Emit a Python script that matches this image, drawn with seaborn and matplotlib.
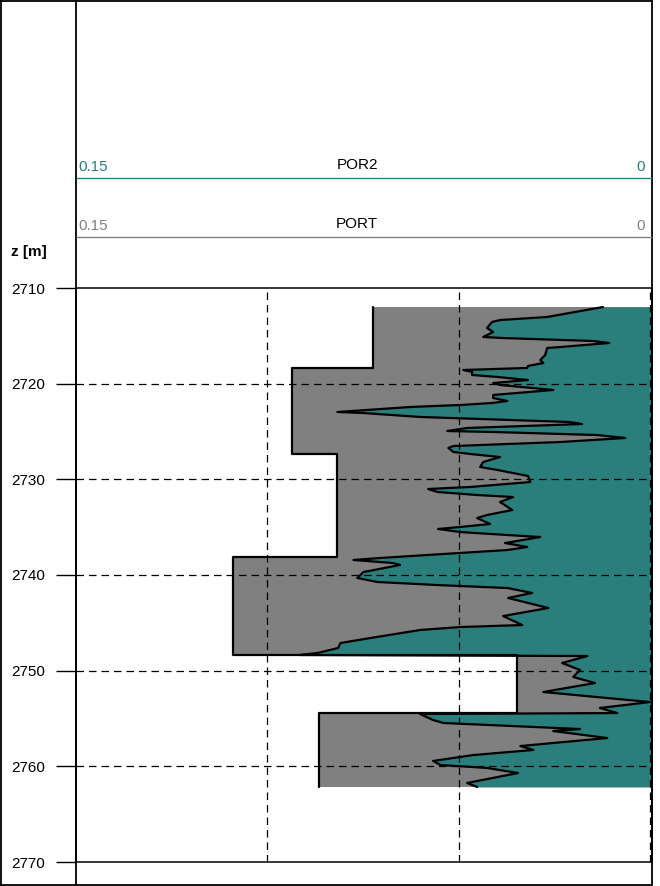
import numpy as np
import pandas as pd
import matplotlib
matplotlib.use("Agg")
import matplotlib.pyplot as plt
import seaborn as sns
from matplotlib.lines import Line2D

# ---------------- data ----------------
# PORT: blocky log, interval tops/bottoms (m) and values (v/v)
port_edges = [2712.0, 2718.4, 2727.35, 2738.1, 2748.35, 2754.4, 2762.15]
port_values = [0.0723, 0.0935, 0.0817, 0.1091, 0.0347, 0.0864]

# POR2: continuous log
por2_depth = [2711.99, 2713.03, 2713.35, 2713.55, 2714.18, 2714.60, 2715.12, 2715.23, 2715.54, 2715.75,
              2716.17, 2716.27, 2717.00, 2717.53, 2717.84, 2718.15, 2718.36, 2718.57, 2718.78, 2719.09,
              2719.30, 2719.62, 2719.93, 2720.14, 2720.66, 2721.18, 2721.50, 2721.81, 2722.02, 2722.23,
              2722.44, 2722.96, 2723.07, 2723.48, 2724.01, 2724.22, 2724.63, 2724.95, 2725.05, 2725.37,
              2725.68, 2726.10, 2726.52, 2726.72, 2727.14, 2727.35, 2727.67, 2728.19, 2728.71, 2729.02,
              2729.65, 2730.28, 2730.80, 2731.01, 2731.32, 2731.64, 2731.85, 2732.37, 2733.21, 2733.73,
              2734.04, 2734.67, 2734.98, 2735.19, 2735.51, 2735.82, 2736.03, 2736.66, 2737.07, 2737.39,
              2737.91, 2738.22, 2738.43, 2738.75, 2738.95, 2739.69, 2740.31, 2740.73, 2741.05, 2741.36,
              2741.88, 2742.40, 2743.45, 2744.29, 2745.23, 2745.44, 2745.75, 2746.59, 2747.11, 2747.63,
              2748.15, 2748.36, 2748.47, 2749.20, 2749.93, 2750.66, 2751.29, 2752.23, 2753.28, 2753.90,
              2754.43, 2754.53, 2755.16, 2755.47, 2756.10, 2756.31, 2757.04, 2757.88, 2758.29, 2758.82,
              2759.44, 2759.86, 2760.17, 2760.70, 2761.74, 2762.16]
por2_values = [0.0123, 0.0269, 0.0392, 0.0413, 0.0426, 0.0410, 0.0436, 0.0384, 0.0149, 0.0107,
               0.0235, 0.0269, 0.0274, 0.0287, 0.0279, 0.0319, 0.0321, 0.0488, 0.0465, 0.0465,
               0.0399, 0.0319, 0.0410, 0.0392, 0.0253, 0.0410, 0.0410, 0.0373, 0.0413, 0.0496,
               0.0627, 0.0817, 0.0749, 0.0601, 0.0209, 0.0178, 0.0478, 0.0530, 0.0410, 0.0138,
               0.0065, 0.0235, 0.0514, 0.0527, 0.0514, 0.0470, 0.0392, 0.0436, 0.0444, 0.0399,
               0.0319, 0.0313, 0.0470, 0.0580, 0.0556, 0.0452, 0.0358, 0.0392, 0.0360, 0.0426,
               0.0452, 0.0418, 0.0496, 0.0554, 0.0496, 0.0373, 0.0287, 0.0379, 0.0321, 0.0373,
               0.0582, 0.0705, 0.0775, 0.0671, 0.0653, 0.0749, 0.0765, 0.0713, 0.0556, 0.0373,
               0.0308, 0.0371, 0.0266, 0.0384, 0.0334, 0.0496, 0.0601, 0.0731, 0.0809, 0.0815,
               0.0869, 0.0914, 0.0164, 0.0230, 0.0183, 0.0201, 0.0144, 0.0279, 0.0000, 0.0131,
               0.0086, 0.0601, 0.0567, 0.0540, 0.0183, 0.0253, 0.0112, 0.0339, 0.0305, 0.0462,
               0.0567, 0.0548, 0.0426, 0.0345, 0.0478, 0.0452]

depth_ticks = [2710, 2720, 2730, 2740, 2750, 2760, 2770]
grid_values = [0.15, 0.1, 0.05, 0.0]
scale_left, scale_right = 0.15, 0
curve_names = ["POR2", "PORT"]

# ---------------- style ----------------
sns.set_style("white")
plt.rcParams["font.family"] = ["Liberation Sans", "DejaVu Sans"]

TEAL = "#2a7e7c"
GREY = "#808080"

W, H = 660, 886
fig = plt.figure(figsize=(W / 100, H / 100), dpi=100)


def fx(px):
    return px / W


def fy(py):
    return 1 - py / H


ax = fig.add_axes([fx(76), fy(862), fx(652) - fx(76), fy(288) - fy(862)])

XR = -0.0005  # right edge of the track (just past 0)

# step coordinates for PORT
port_x, port_y = [], []
for i, v in enumerate(port_values):
    port_x += [v, v]
    port_y += [port_edges[i], port_edges[i + 1]]

df_port = pd.DataFrame({"v": port_x, "d": port_y})
df_por2 = pd.DataFrame({"v": por2_values, "d": por2_depth})

ax.fill_betweenx(df_port["d"], df_port["v"], XR, color=GREY, lw=0, zorder=1)
ax.fill_betweenx(df_por2["d"], df_por2["v"], XR, color=TEAL, lw=0, zorder=2)

sns.lineplot(data=df_port, x="v", y="d", orient="y", sort=False, estimator=None,
             color="black", lw=1.6, ax=ax, zorder=4)
sns.lineplot(data=df_por2, x="v", y="d", orient="y", sort=False, estimator=None,
             color="black", lw=1.6, ax=ax, zorder=4)

ax.set_xlim(scale_left, XR)
ax.set_ylim(depth_ticks[-1], depth_ticks[0])
ax.set_xlabel("")
ax.set_ylabel("")

ax.set_xticks(grid_values)
ax.set_yticks(depth_ticks)
ax.grid(True, color="black", ls=(0, (6, 4)), lw=0.9)
ax.set_axisbelow(False)
ax.tick_params(axis="x", length=0, labelbottom=False)
ax.tick_params(axis="y", length=14.4, width=1.0, pad=8, labelsize=11,
               color="black", labelcolor="black", direction="out", left=True)
fig.canvas.draw()
ygl = ax.yaxis.get_gridlines()
ygl[0].set_visible(False)
ygl[-1].set_visible(False)
ax.xaxis.get_gridlines()[0].set_visible(False)
for s in ax.spines.values():
    s.set_color("black")
    s.set_linewidth(1.1)
    s.set_zorder(6)

# ---------------- frame & header ----------------
def fline(x0, y0, x1, y1, color="black", lw=1.3):
    fig.add_artist(Line2D([fx(x0), fx(x1)], [fy(y0), fy(y1)], color=color, lw=lw,
                          transform=fig.transFigure, solid_capstyle="butt"))


fline(0.8, 0, 0.8, 885.5)
fline(0, 0.8, 652, 0.8)
fline(651.5, 0, 651.5, 885.5)
fline(0, 885, 652, 885)
fline(76, 0, 76, 885)
fline(76, 178, 652, 178, color=TEAL, lw=1.0)
fline(76, 237, 652, 237, color=GREY, lw=1.0)

fs = 11
fig.text(fx(357), fy(169), curve_names[0], ha="center", va="baseline", fontsize=fs, color="black")
fig.text(fx(78), fy(171), f"{scale_left}", ha="left", va="baseline", fontsize=fs, color=TEAL)
fig.text(fx(645), fy(171), f"{scale_right}", ha="right", va="baseline", fontsize=fs, color=TEAL)
fig.text(fx(357), fy(228), curve_names[1], ha="center", va="baseline", fontsize=fs, color="black")
fig.text(fx(78), fy(230), f"{scale_left}", ha="left", va="baseline", fontsize=fs, color=GREY)
fig.text(fx(645), fy(230), f"{scale_right}", ha="right", va="baseline", fontsize=fs, color=GREY)
fig.text(fx(11), fy(256), "z [m]", ha="left", va="baseline", fontsize=fs, color="black",
         fontweight="bold")

fig.savefig("out.png", dpi=100)
